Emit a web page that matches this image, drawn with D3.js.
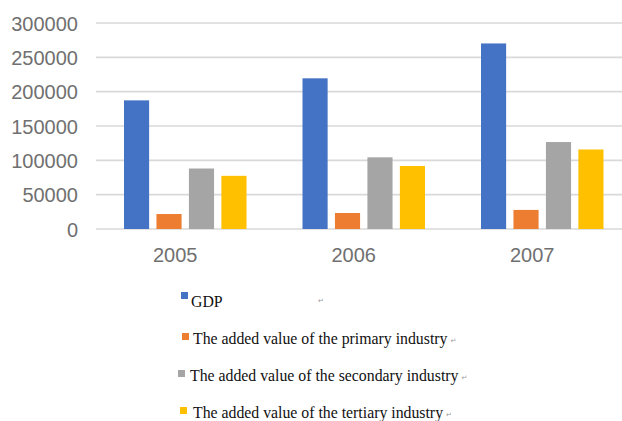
<!DOCTYPE html>
<html>
<head>
<meta charset="utf-8">
<script src="https://cdn.jsdelivr.net/npm/d3@7"></script>
<style>
  html, body { margin: 0; padding: 0; background: #fff; }
  svg { display: block; }
</style>
</head>
<body>
<svg id="chart" width="622" height="421"></svg>
<script>
// GDP and industry value added by year (100 million yuan)
const years = ["2005", "2006", "2007"];
const seriesNames = [
  "GDP",
  "The added value of the primary industry",
  "The added value of the secondary industry",
  "The added value of the tertiary industry"
];
const gdp       = [187319, 219439, 270232];
const primary   = [21807, 23317, 27788];
const secondary = [88084, 104362, 126634];
const tertiary  = [77428, 91760, 115811];
const yTicks = [0, 50000, 100000, 150000, 200000, 250000, 300000];
const colors = ["#4472C4", "#ED7D31", "#A5A5A5", "#FFC000"];

const seriesValues = [gdp, primary, secondary, tertiary];
const svg = d3.select("#chart");

const plotLeft = 96, plotRight = 622, bandRight = 631.5;
const yTop = 23, yBottom = 229;

const x = d3.scaleBand().domain(years).range([plotLeft, bandRight]);
const xInner = d3.scaleBand().domain(d3.range(seriesNames.length))
  .range([28, x.bandwidth() - 28]).paddingInner(0.226).paddingOuter(0);
const y = d3.scaleLinear().domain([0, 300000]).range([yBottom, yTop]);

// Gridlines
svg.append("g").selectAll("line").data(yTicks).join("line")
  .attr("x1", plotLeft).attr("x2", plotRight)
  .attr("y1", d => y(d)).attr("y2", d => y(d))
  .attr("stroke", "#d9d9d9").attr("stroke-width", 1.6);

// Y axis labels
const yAxis = d3.axisLeft(y).tickValues(yTicks).tickSize(0).tickPadding(0)
  .tickFormat(d3.format("d"));
svg.append("g").attr("transform", "translate(78,0)").call(yAxis)
  .call(g => g.select(".domain").remove())
  .call(g => g.selectAll("text")
    .attr("fill", "#707070")
    .attr("font-family", "Liberation Sans, Arial, sans-serif")
    .attr("font-size", 20)
    .attr("dy", "0.36em"));

// Bars
const rows = years.map((yr, i) => ({ yr, vals: seriesValues.map(s => s[i]) }));
svg.append("g").selectAll("g").data(rows).join("g")
  .attr("transform", d => `translate(${x(d.yr)},0)`)
  .selectAll("rect").data(d => d.vals.map((v, k) => ({ v, k }))).join("rect")
  .attr("x", d => xInner(d.k))
  .attr("width", xInner.bandwidth())
  .attr("y", d => y(d.v))
  .attr("height", d => y(0) - y(d.v))
  .attr("fill", d => colors[d.k]);

// X axis labels
const xAxis = d3.axisBottom(x).tickSize(0).tickPadding(0);
svg.append("g").attr("transform", `translate(-10,${yBottom})`).call(xAxis)
  .call(g => g.select(".domain").remove())
  .call(g => g.selectAll("text")
    .attr("fill", "#707070")
    .attr("font-family", "Liberation Sans, Arial, sans-serif")
    .attr("font-size", 20)
    .attr("dy", 0).attr("y", 33));

// Legend, laid out like paragraphs with a return mark after each line
const legendBaselines = [307, 344, 381, 418];
const legendSquareX = [181, 182, 178, 180];
const legendTextX = [191, 193, 190, 193];
const lg = svg.append("g");
seriesNames.forEach((name, k) => {
  lg.append("rect")
    .attr("x", legendSquareX[k]).attr("y", legendBaselines[k] - (k === 0 ? 15 : 11))
    .attr("width", 7).attr("height", 7)
    .attr("fill", colors[k]);
  const t = lg.append("text")
    .attr("x", legendTextX[k]).attr("y", legendBaselines[k])
    .attr("font-family", "Liberation Serif, 'Times New Roman', serif")
    .attr("font-size", 15.8)
    .attr("fill", "#111")
    .text(name);
  const end = legendTextX[k] + t.node().getComputedTextLength();
  lg.append("text")
    .attr("x", k === 0 ? 318 : end + 3).attr("y", legendBaselines[k] - (k === 0 ? 4 : 1))
    .attr("font-family", "DejaVu Sans, sans-serif")
    .attr("font-size", 7)
    .attr("fill", "#999")
    .text("\u21B5");
});
</script>
</body>
</html>
